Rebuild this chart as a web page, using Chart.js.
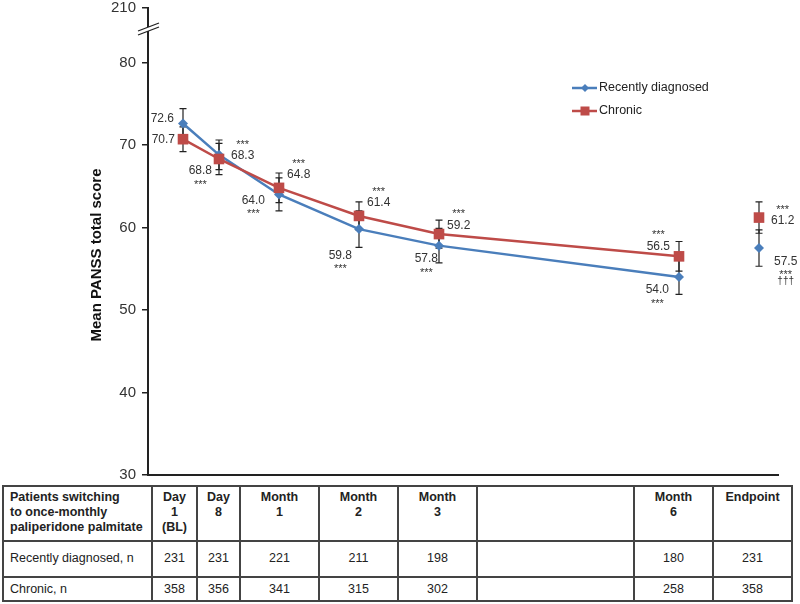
<!DOCTYPE html>
<html>
<head>
<meta charset="utf-8">
<script src="https://cdn.jsdelivr.net/npm/chart.js@4.4.0/dist/chart.umd.min.js"></script>
<style>
  body { margin: 0; background: #fff; }
  #wrap { position: relative; width: 800px; height: 604px; font-family: "Liberation Sans", Arial, sans-serif; }
  #chart { position: absolute; left: 0; top: 0; }
  #ntable { position: absolute; left: 2px; top: 485px; border-collapse: collapse; table-layout: fixed;
            font-size: 12.5px; color: #222; background: #fff; }
  #ntable td { border: 2px solid #444; text-align: center; padding: 0; }
  #ntable tr.hdr td { height: 50px; vertical-align: top; padding-top: 3px; font-weight: bold; line-height: 15px; }
  #ntable tr.r1 td { height: 31px; padding-bottom: 3px; }
  #ntable tr.r2 td { height: 22px; }
  #ntable td.first { text-align: left; padding-left: 6px; }
</style>
</head>
<body>
<div id="wrap">
  <canvas id="chart" width="800" height="604"></canvas>
  <table id="ntable"></table>
</div>
<script>
// time points (x slots follow the table columns, not a true time scale)
const timepoints = ['Day 1 (BL)', 'Day 8', 'Month 1', 'Month 2', 'Month 3', 'Month 6', 'Endpoint'];
const xSlots = [-0.2, 0.25, 1, 2, 3, 6, 7];

const recentMean = [72.6, 68.8, 64.0, 59.8, 57.8, 54.0, 57.5];
const recentSE = [1.8, 1.8, 2.0, 2.2, 2.1, 2.1, 2.2];
const chronicMean = [70.7, 68.3, 64.8, 61.4, 59.2, 56.5, 61.2];
const chronicSE = [1.5, 1.9, 1.8, 1.7, 1.7, 1.8, 1.9];

const recentStars = ['', '***', '***', '***', '***', '***', '***'];
const recentDaggers = ['', '', '', '', '', '', '†††'];
const chronicStars = ['', '***', '***', '***', '***', '***', '***'];

const yTicks = [30, 40, 50, 60, 70, 80, 86.6];
const yTickLabels = ['30', '40', '50', '60', '70', '80', '210'];

const tableTitle = ['Patients switching', 'to once-monthly', 'paliperidone palmitate'];
const tableHeaders = [['Day', '1', '(BL)'], ['Day', '8'], ['Month', '1'], ['Month', '2'], ['Month', '3'], ['Month', '6'], ['Endpoint']];
const recentN = [231, 231, 221, 211, 198, 180, 231];
const chronicN = [358, 356, 341, 315, 302, 258, 358];

const BLUE = '#4A7EBB';
const RED = '#BE4B48';
const FONT = '"Liberation Sans", Arial, sans-serif';

// n table
function buildTable() {
    const widths = [149, 45, 43, 79, 79, 79, 157, 79, 79];
    const table = document.getElementById('ntable');
    let html = '<colgroup>' + widths.map(w => '<col style="width:' + w + 'px">').join('') + '</colgroup>';
    const cells = (arr, blank) => {
        const out = arr.map(v => '<td>' + v + '</td>');
        out.splice(5, 0, '<td>' + blank + '</td>');
        return out.join('');
    };
    html += '<tr class="hdr"><td class="first">' + tableTitle.join('<br>') + '</td>' +
        cells(tableHeaders.map(h => h.join('<br>')), '') + '</tr>';
    html += '<tr class="r1"><td class="first">Recently diagnosed, n</td>' + cells(recentN, '') + '</tr>';
    html += '<tr class="r2"><td class="first">Chronic, n</td>' + cells(chronicN, '') + '</tr>';
    table.innerHTML = html;
}
buildTable();

// error bars
const errorBars = {
    id: 'errorBars',
    beforeDatasetsDraw(chart) {
        const ctx = chart.ctx;
        const y = chart.scales.y;
        ctx.save();
        ctx.strokeStyle = '#222';
        ctx.lineWidth = 1.2;
        chart.data.datasets.forEach((ds, di) => {
            const meta = chart.getDatasetMeta(di);
            meta.data.forEach((pt, i) => {
                const m = ds.data[i].y;
                const top = y.getPixelForValue(m + ds.se[i]);
                const bot = y.getPixelForValue(m - ds.se[i]);
                ctx.beginPath();
                ctx.moveTo(pt.x, top); ctx.lineTo(pt.x, bot);
                ctx.moveTo(pt.x - 3.5, top); ctx.lineTo(pt.x + 3.5, top);
                ctx.moveTo(pt.x - 3.5, bot); ctx.lineTo(pt.x + 3.5, bot);
                ctx.stroke();
            });
        });
        ctx.restore();
    }
};

// value labels, significance marks, legend, axis title and axis break
const recentPos = [[-9, -6, 'right'], [-7, 15, 'right'], [-14, 5, 'right'], [-7, 25, 'right'], [-1, 12, 'right'], [-10, 12, 'right'], [15, 12, 'left']];
const chronicPos = [[-8, -1, 'right'], [12, -4, 'left'], [8, -14, 'left'], [8, -14, 'left'], [8, -10, 'left'], [-9, -11, 'right'], [12, 2, 'left']];

const decorations = {
    id: 'decorations',
    afterDraw(chart) {
        const ctx = chart.ctx;
        const area = chart.chartArea;
        ctx.save();
        ctx.fillStyle = '#333';

        const drawLabels = (di, pos, stars, daggers, below) => {
            const meta = chart.getDatasetMeta(di);
            const ds = chart.data.datasets[di];
            meta.data.forEach((pt, i) => {
                const txt = ds.data[i].y.toFixed(1);
                const [dx, dy, align] = pos[i];
                const tx = pt.x + dx;
                const ty = pt.y + dy;
                ctx.font = '12px ' + FONT;
                ctx.textAlign = align;
                ctx.textBaseline = 'alphabetic';
                ctx.fillText(txt, tx, ty + 4.5);
                const w = ctx.measureText(txt).width;
                const cx = align === 'right' ? tx - w / 2 : tx + w / 2;
                ctx.textAlign = 'center';
                if (stars[i]) {
                    ctx.font = '11px ' + FONT;
                    ctx.fillText(stars[i], cx, ty + (below ? 12 : -13) + 6);
                }
                if (daggers && daggers[i]) {
                    ctx.font = '10px ' + FONT;
                    ctx.fillText(daggers[i], cx, ty + 21 + 3);
                }
            });
        };
        drawLabels(0, recentPos, recentStars, recentDaggers, true);
        drawLabels(1, chronicPos, chronicStars, null, false);

        // legend
        chart.data.datasets.forEach((ds, di) => {
            const ly = 88 + di * 23;
            ctx.strokeStyle = ds.borderColor;
            ctx.lineWidth = 2.5;
            ctx.beginPath();
            ctx.moveTo(572, ly); ctx.lineTo(597, ly);
            ctx.stroke();
            ctx.fillStyle = ds.pointBackgroundColor;
            if (ds.pointStyle === 'rectRot') {
                ctx.beginPath();
                ctx.moveTo(585, ly - 4); ctx.lineTo(589, ly); ctx.lineTo(585, ly + 4); ctx.lineTo(581, ly);
                ctx.closePath(); ctx.fill();
            } else {
                ctx.fillRect(580.5, ly - 4.5, 9, 9);
            }
            ctx.fillStyle = '#222';
            ctx.font = '12.5px ' + FONT;
            ctx.textAlign = 'left';
            ctx.textBaseline = 'middle';
            ctx.fillText(ds.label, 599, ly);
        });

        // y axis title
        ctx.save();
        ctx.translate(97, 255);
        ctx.rotate(-Math.PI / 2);
        ctx.font = 'bold 15px ' + FONT;
        ctx.fillStyle = '#111';
        ctx.textAlign = 'center';
        ctx.textBaseline = 'middle';
        ctx.fillText('Mean PANSS total score', 0, 0);
        ctx.restore();

        // axis break marks
        const ax = area.left;
        ctx.fillStyle = '#fff';
        ctx.fillRect(ax - 3, 27, 6, 4);
        ctx.strokeStyle = '#222';
        ctx.lineWidth = 1.3;
        ctx.beginPath();
        ctx.moveTo(ax - 10, 31); ctx.lineTo(ax + 11, 23);
        ctx.moveTo(ax - 10, 35); ctx.lineTo(ax + 11, 27);
        ctx.stroke();
        ctx.restore();
    }
};

const lastIdx = timepoints.length - 1;
function makeDataset(label, means, se, color, style, radius, order) {
    return {
        label: label,
        data: xSlots.map((x, i) => ({ x: x, y: means[i] })),
        se: se,
        borderColor: color,
        backgroundColor: color,
        pointBackgroundColor: color,
        pointBorderColor: color,
        pointBorderWidth: 0,
        pointStyle: style,
        pointRadius: radius,
        borderWidth: 2.5,
        tension: 0,
        order: order,
        segment: {
            borderColor: ctx => ctx.p1DataIndex === lastIdx ? 'rgba(0,0,0,0)' : undefined
        }
    };
}

new Chart(document.getElementById('chart'), {
    type: 'line',
    data: {
        datasets: [
            makeDataset('Recently diagnosed', recentMean, recentSE, BLUE, 'rectRot', 5, 1),
            makeDataset('Chronic', chronicMean, chronicSE, RED, 'rect', 7.5, 0)
        ]
    },
    options: {
        responsive: false,
        animation: false,
        layout: { padding: { left: 88, right: 22, top: 8, bottom: 129 } },
        plugins: {
            legend: { display: false },
            tooltip: { enabled: false }
        },
        scales: {
            x: {
                type: 'linear',
                min: -0.6375,
                max: 7.2375,
                grid: { display: false },
                border: { display: true, color: '#222', width: 2 },
                ticks: { display: false },
                afterFit: function(scale) { scale.height = 0; }
            },
            y: {
                min: 30,
                max: 86.6,
                grid: { display: true, drawOnChartArea: false, drawTicks: true, tickLength: 6, color: '#222', lineWidth: 1.5 },
                border: { display: true, color: '#222', width: 2 },
                afterBuildTicks: function(scale) {
                    scale.ticks = yTicks.map(v => ({ value: v }));
                },
                ticks: {
                    autoSkip: false,
                    padding: 6,
                    color: '#333',
                    font: { family: FONT, size: 15 },
                    callback: function(value) { return yTickLabels[yTicks.indexOf(value)]; }
                },
                afterFit: function(scale) {
                    scale.width = 60;
                    scale.paddingTop = 0;
                    scale.paddingBottom = 0;
                }
            }
        }
    },
    plugins: [errorBars, decorations]
});
</script>
</body>
</html>
